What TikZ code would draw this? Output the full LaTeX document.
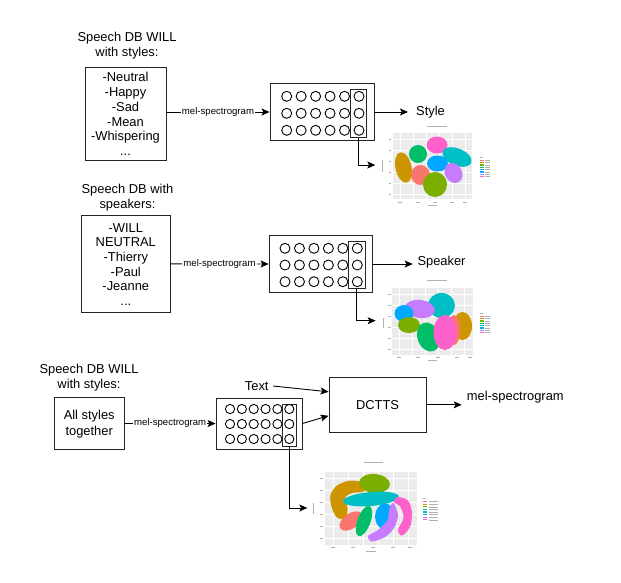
\documentclass[tikz,border=0pt]{standalone}
\usepackage{fontspec}
\setmainfont{Liberation Sans}
\usetikzlibrary{arrows.meta,calc}
\definecolor{cRed}{HTML}{F8766D}
\definecolor{cGold}{HTML}{CD9600}
\definecolor{cOlive}{HTML}{7CAE00}
\definecolor{cGreen}{HTML}{00BE67}
\definecolor{cTeal}{HTML}{00BFC4}
\definecolor{cBlue}{HTML}{00A9FF}
\definecolor{cPurple}{HTML}{C77CFF}
\definecolor{cPink}{HTML}{FF61CC}
\definecolor{panel}{HTML}{EBEBEB}
\definecolor{tiny}{HTML}{B0B0B0}
\begin{document}
\begin{tikzpicture}[x=1pt,y=-1pt,
  box/.style={draw=black!85, line width=0.9pt, inner sep=0pt},
  lbl/.style={font=\fontsize{12.9}{14.7}\selectfont, align=center, inner sep=0pt},
  small/.style={font=\fontsize{9.6}{11}\selectfont, fill=white, inner sep=1pt},
  arr/.style={-{Stealth[length=8pt,width=7pt,inset=1.8pt]}, line width=0.9pt},
  neuron/.style={circle, draw=black, line width=0.9pt, inner sep=0pt},
  tk/.style={tiny, line width=0.6pt},
  grid/.style={white, line width=0.6pt}
]
\useasboundingbox[fill=white] (0,0) rectangle (621,582);

% ================= Section 1 =================
\node[lbl] (t1) at (127,46) {Speech DB WILL\\with styles:};
\node[box, minimum width=81pt, minimum height=93pt] (db1) at (125.5,113.5) {};
\node[lbl] (l1) at (125.5,114) {-Neutral\\-Happy\\-Sad\\-Mean\\-Whispering\\...};
\node[box, minimum width=104pt, minimum height=57.4pt] (nn1) at (322,112) {};
\foreach \i in {0,...,5}{\foreach \j/\yy in {0/96.3,1/113.3,2/130.3}{
  \node[neuron, minimum size=10pt] (n1-\i-\j) at ({286.7+14.46*\i},\yy) {};}}
\node[box, minimum width=16pt, minimum height=48pt] (in1) at (358.7,113.3) {};
\draw[arr] (db1.east |- nn1.west) -- node[small] (m1) {mel-spectrogram} (nn1.west);
\node[lbl, anchor=west] (style) at (416,112) {Style};
\coordinate (s1) at (408,112);
\draw[arr] (nn1.east) -- (s1);
\coordinate (p1) at (375.3,165);
\draw[arr] (in1.south) |- (p1);

% ================= Section 2 =================
\node[lbl] (t2) at (127.5,198) {Speech DB with\\speakers:};
\node[box, minimum width=88.3pt, minimum height=97.7pt] (db2) at (125.8,263.8) {};
\node[lbl] (l2) at (125.8,264.5) {-WILL\\NEUTRAL\\-Thierry\\-Paul\\-Jeanne\\...};
\node[box, minimum width=103.3pt, minimum height=56.6pt] (nn2) at (320.7,264) {};
\foreach \i in {0,...,5}{\foreach \j/\yy in {0/248.3,1/265,2/281.7}{
  \node[neuron, minimum size=10pt] (n2-\i-\j) at ({285+14.46*\i},\yy) {};}}
\node[box, minimum width=16.3pt, minimum height=46.6pt] (in2) at (356.85,265) {};
\draw[arr] (db2.east) -- node[small] (m2) {mel-spectrogram} (nn2.west);
\node[lbl, anchor=west] (speaker) at (417.3,262.5) {Speaker};
\coordinate (s2) at (412.7,264);
\draw[arr] (nn2.east) -- (s2);
\coordinate (p2) at (375.7,320.7);
\draw[arr] (in2.south) |- (p2);

% ================= Section 3 =================
\node[lbl] (t3) at (89,378) {Speech DB WILL\\with styles:};
\node[box, minimum width=70.3pt, minimum height=52pt] (db3) at (89.2,423.5) {};
\node[lbl, font=\fontsize{12.9}{16}\selectfont] (l3) at (89.2,424) {All styles\\together};
\node[box, minimum width=86pt, minimum height=51pt] (nn3) at (259,423.5) {};
\foreach \i in {0,...,5}{\foreach \j/\yy in {0/409,1/424,2/439}{
  \node[neuron, minimum size=9.2pt] (n3-\i-\j) at ({230+11.86*\i},\yy) {};}}
\node[box, minimum width=13.5pt, minimum height=42pt] (in3) at (289.25,425) {};
\draw[arr] (db3.east) -- node[small] (m3) {mel-spectrogram} (nn3.west);
\node[box, minimum width=97pt, minimum height=55pt] (dctts) at (377.5,404.8) {};
\node[lbl] (dl) at (377.5,405) {DCTTS};
\node[lbl] (txt) at (256.7,386) {Text};
\draw[arr] ([xshift=4.5pt]txt.east) -- ([yshift=13pt]dctts.west);
\draw[arr] (nn3.east) -- ([yshift=-11pt]dctts.west);
\node[lbl, anchor=west] (melout) at (466.7,397.3) {mel-spectrogram};
\coordinate (s3) at (461.7,404.8);
\draw[arr] (dctts.east) -- (s3);
\coordinate (p3) at (307.3,508);
\draw[arr] (in3.south) |- (p3);

% ================= Plot 1 =================
\fill[panel] (393,133) rectangle (472,199);
\foreach \x in {400,413,426,439,452,465}{\draw[grid] (\x,133) -- (\x,199);}
\foreach \y in {139,150,161,172,183,194}{\draw[grid] (393,\y) -- (472,\y);}
\fill[cPink] (437,145) ellipse [x radius=10.5, y radius=8.5];
\fill[cGreen] (418,154) ellipse [x radius=9, y radius=9];
\fill[cTeal, rotate around={-22:(457,157)}] (457,157) ellipse [x radius=15.5, y radius=8.5];
\fill[cBlue] (437.5,163.5) ellipse [x radius=10.5, y radius=8];
\fill[cGold, rotate around={12:(403.5,167.5)}] (403.5,167.5) ellipse [x radius=8, y radius=15.5];
\fill[cRed] (420.5,175) ellipse [x radius=9.5, y radius=10];
\fill[cPurple, rotate around={30:(453.5,173)}] (453.5,173) ellipse [x radius=8.5, y radius=10.5];
\fill[cOlive] (435,184.5) ellipse [x radius=12, y radius=12.5];
\draw[tk] (427,126.5) -- (447,126.5);
\draw[tk] (382.5,160) -- (382.5,172);
\foreach \y in {139,150,161,172,183,194}{\draw[tk] (388.5,\y) -- (391,\y);}
\foreach \x in {400,418,435,452,465}{\draw[tk] (\x-2,202) -- (\x+2,202);}
\draw[tk] (428,205.5) -- (437,205.5);
\draw[tk] (480,157) -- (483,157);
\foreach \c [count=\k] in {cRed,cGold,cOlive,cGreen,cTeal,cBlue,cPurple,cPink}{
  \fill[\c] (480,{157.5+2.3*\k}) rectangle (483.5,{158.7+2.3*\k});
  \draw[tk, line width=0.5pt] (485,{158.1+2.3*\k}) -- (490,{158.1+2.3*\k});}

% ================= Plot 2 =================
\fill[panel] (392,288) rectangle (473,355);
\foreach \x in {399,412,425,438,451,464}{\draw[grid] (\x,288) -- (\x,355);}
\foreach \y in {294,305,316,327,338,349}{\draw[grid] (392,\y) -- (473,\y);}
\fill[cTeal] (441.5,305.5) ellipse [x radius=13.5, y radius=12.5];
\fill[cPurple, rotate around={-8:(420,309)}] (420,309) ellipse [x radius=15, y radius=9];
\fill[cBlue] (404,313.5) ellipse [x radius=9.5, y radius=8.5];
\fill[cOlive] (409,325) ellipse [x radius=11, y radius=8];
\fill[cGreen, rotate around={20:(428.5,337)}] (428.5,337) ellipse [x radius=11, y radius=15];
\fill[cGold] (462.5,326) ellipse [x radius=9.5, y radius=14];
\fill[cRed] (454,330) ellipse [x radius=6, y radius=15];
\fill[cPink] (445,332.5) ellipse [x radius=11.5, y radius=17.5];
\draw[tk] (427,280.5) -- (447,280.5);
\draw[tk] (383,318) -- (383,328);
\foreach \y in {294,305,316,327,338,349}{\draw[tk] (388,\y) -- (390.5,\y);}
\foreach \x in {399,418,438,457,470}{\draw[tk] (\x-2,357.5) -- (\x+2,357.5);}
\draw[tk] (428,360.5) -- (437,360.5);
\draw[tk] (480,313) -- (483,313);
\foreach \c [count=\k] in {cRed,cGold,cOlive,cGreen,cTeal,cBlue,cPurple,cPink}{
  \fill[\c] (480,{313.5+2.3*\k}) rectangle (483.5,{314.7+2.3*\k});
  \draw[tk, line width=0.5pt] (485,{314.1+2.3*\k}) -- (490,{314.1+2.3*\k});}

% ================= Plot 3 =================
\fill[panel] (325,471.7) rectangle (416.7,545);
\foreach \x in {333,348,363,378,393,408}{\draw[grid] (\x,471.7) -- (\x,545);}
\foreach \y in {478,490,502,514,526,538}{\draw[grid] (325,\y) -- (416.7,\y);}
\fill[cGold] plot[smooth cycle] coordinates {(363,483) (350,480.5) (337,485.5) (330.5,495) (331.5,507) (337,517.5) (346,518.5) (347.5,508) (345,498) (352,493) (364,491.5)};
\fill[cOlive, rotate around={-5:(374.5,483.5)}] (374.5,483.5) ellipse [x radius=15.5, y radius=9.5];
\fill[cTeal, rotate around={5:(371,499)}] (371,499) ellipse [x radius=28, y radius=7];
\fill[cRed, rotate around={35:(351,521)}] (351,521) ellipse [x radius=13, y radius=7.5];
\fill[cGreen, rotate around={70:(364,521)}] (364,521) ellipse [x radius=16, y radius=6.5];
\fill[cBlue] (385,516.5) ellipse [x radius=10, y radius=13];
\fill[cPurple] plot[smooth cycle] coordinates {(393.5,503) (398,515) (394,528) (385,537) (372,541.5) (368,536) (378,530) (387.5,520) (389.5,508)};
\fill[cPink] plot[smooth cycle] coordinates {(397,497) (408,500.5) (412,513) (410,527) (402,535.5) (398,530) (403.5,518) (400.5,507) (394,502)};
\draw[tk] (364,462.3) -- (383,462.3);
\draw[tk] (313,503) -- (313,514);
\foreach \y in {478,490,502,514,526,538}{\draw[tk] (319.5,\y) -- (322.5,\y);}
\foreach \x in {333,353,373,393,410}{\draw[tk] (\x-2,547.5) -- (\x+2,547.5);}
\draw[tk] (366,551) -- (376,551);
\draw[tk] (423,498) -- (426,498);
\foreach \c [count=\k] in {cRed,cGold,cOlive,cGreen,cTeal,cBlue,cPurple,cPink}{
  \fill[\c] (423,{498.3+2.6*\k}) rectangle (427,{499.6+2.6*\k});
  \draw[tk, line width=0.5pt] (428.5,{499+2.6*\k}) -- (438,{499+2.6*\k});}
\end{tikzpicture}
\end{document}
